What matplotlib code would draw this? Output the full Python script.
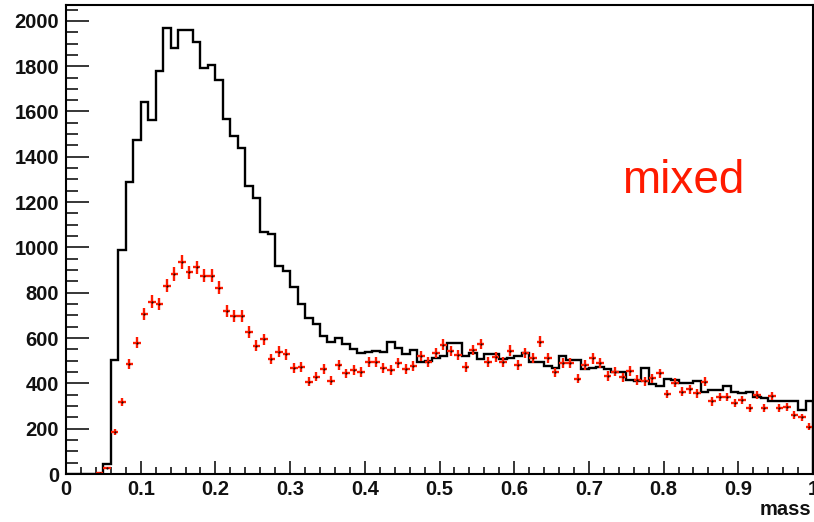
import numpy as np
import matplotlib
matplotlib.use("Agg")
from matplotlib import pyplot as plt
from matplotlib.ticker import MultipleLocator, FuncFormatter

# 100 bins of width 0.01 in mass
edges = np.linspace(0, 1, 101)
centers = 0.5 * (edges[:-1] + edges[1:])

# same-event histogram (black line)
same = [0, 0, 0, 0, 0, 44, 503, 990, 1289, 1475,
        1644, 1563, 1779, 1970, 1882, 1960, 1960, 1906, 1791, 1803,
        1740, 1567, 1492, 1438, 1272, 1217, 1067, 1060, 920, 896,
        827, 749, 690, 661, 609, 581, 602, 573, 552, 533,
        540, 545, 537, 581, 558, 528, 547, 495, 497, 513,
        521, 577, 577, 521, 536, 508, 530, 530, 508, 514,
        521, 536, 496, 496, 477, 467, 521, 503, 503, 462,
        467, 472, 462, 452, 452, 415, 410, 466, 397, 390,
        420, 415, 402, 400, 410, 364, 371, 371, 388, 364,
        356, 364, 341, 334, 320, 320, 320, 320, 283, 320]

# mixed-event histogram (red points with errors)
mixed = [0, 0, 0, 0, 3, 25, 184, 316, 484, 580,
         706, 761, 751, 830, 882, 935, 890, 912, 876, 876,
         823, 720, 698, 698, 626, 567, 595, 506, 540, 528,
         469, 474, 408, 430, 464, 411, 481, 444, 459, 449,
         493, 493, 467, 459, 489, 464, 478, 520, 495, 533,
         570, 543, 525, 471, 547, 574, 496, 515, 496, 545,
         481, 533, 513, 584, 513, 448, 492, 488, 420, 481,
         510, 492, 433, 452, 426, 455, 415, 410, 422, 444,
         353, 403, 364, 374, 356, 408, 320, 341, 341, 315,
         327, 290, 349, 290, 344, 290, 297, 260, 250, 209]

same = np.array(same, dtype=float)
mixed = np.array(mixed, dtype=float)

red = "#ff1a00"
font = ["Liberation Sans", "DejaVu Sans"]

fig = plt.figure(figsize=(8.14, 5.22), dpi=100)
ax = fig.add_axes([66 / 814, 48 / 522, 747 / 814, 469 / 522])

ax.stairs(same, edges, baseline=0, color="black", lw=1.7)

m = mixed > 0
ax.errorbar(centers[m], mixed[m], xerr=0.005, yerr=np.sqrt(mixed[m]),
            fmt="none", ecolor=red, elinewidth=1.7, capsize=0)
ax.plot(centers[m], mixed[m], ".", color="black", ms=1.0)

ax.set_xlim(0, 1)
ax.set_ylim(0, 2070)

ax.xaxis.set_major_locator(MultipleLocator(0.1))
ax.xaxis.set_minor_locator(MultipleLocator(0.02))
ax.yaxis.set_major_locator(MultipleLocator(200))
ax.yaxis.set_minor_locator(MultipleLocator(50))
ax.xaxis.set_major_formatter(FuncFormatter(lambda v, p: f"{v:g}"))
ax.yaxis.set_major_formatter(FuncFormatter(lambda v, p: f"{v:g}"))

ax.tick_params(axis="x", which="major", direction="in", length=9.5, width=1.1, pad=4)
ax.tick_params(axis="x", which="minor", direction="in", length=5, width=1.1)
ax.tick_params(axis="y", which="major", direction="in", length=16.5, width=1.1, pad=5)
ax.tick_params(axis="y", which="minor", direction="in", length=8.5, width=1.1)
for lab in ax.get_xticklabels() + ax.get_yticklabels():
    lab.set_family(font)
    lab.set_fontweight("bold")
    lab.set_fontsize(14.5)
    lab.set_color("#111111")

for sp in ax.spines.values():
    sp.set_linewidth(1.5)

fig.text(811.5 / 814, (522 - 515) / 522, "mass", ha="right", va="baseline",
         family=font, fontweight="bold", fontsize=14.5, color="#111111")
fig.text(621.7 / 814, (522 - 193.3) / 522, "mixed", ha="left", va="baseline",
         family=font, fontsize=33, color=red)

fig.savefig("out.png", dpi=100)
